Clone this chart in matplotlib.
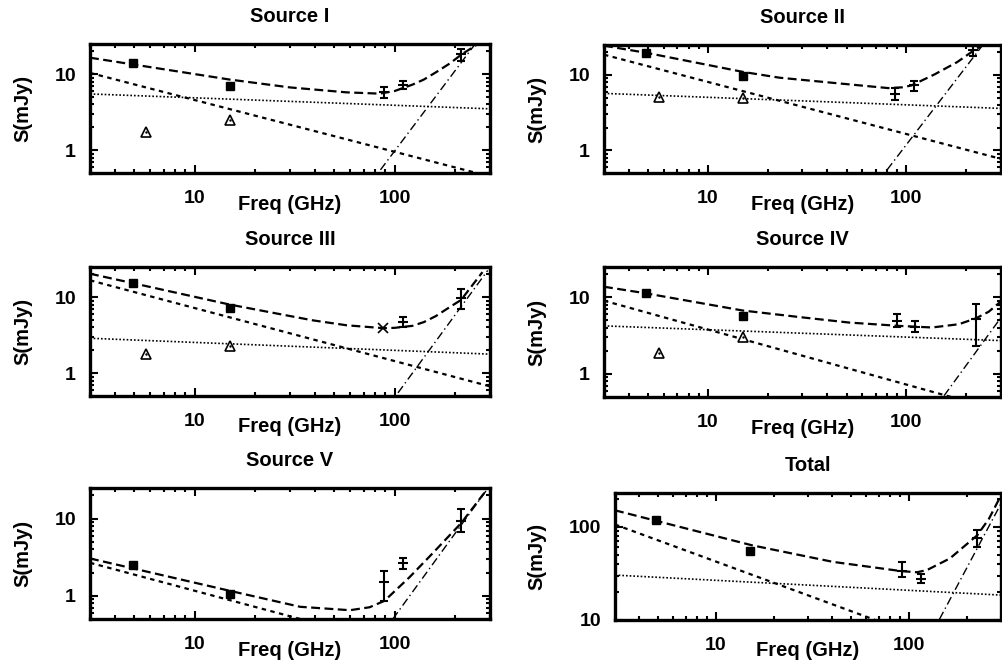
import matplotlib
matplotlib.use('Agg')
import matplotlib.pyplot as plt
import numpy as np
from matplotlib.ticker import LogLocator, NullFormatter

plt.rcParams['font.family'] = ['Liberation Sans', 'DejaVu Sans']
plt.rcParams['font.weight'] = 'bold'
plt.rcParams['font.size'] = 14

titles = ['Source I', 'Source II', 'Source III', 'Source IV', 'Source V', 'Total']

# filled squares (low frequency points)
sq_freq = [4.9, 15.0]
sq_flux = [[14.2, 7.0], [19.5, 9.8], [15.6, 7.2], [11.4, 5.7], [2.49, 1.05], [117.0, 54.7]]
sq_err = [[0.8, 0.6], [1.0, 0.7], [0.8, 0.6], [0.6, 0.6], [0.15, 0.08], [5.0, 4.0]]

# open triangles
tri_freq = [5.7, 15.0]
tri_flux = [[1.72, 2.48], [5.05, 4.95], [1.81, 2.25], [1.9, 3.05], [], []]

# high frequency points with error bars
bar_freq = [[89, 110, 216], [88, 109, 218], [110, 215], [90, 111, 224], [89, 110, 216], [91.6, 115, 226]]
bar_flux = [[5.8, 7.2, 18.2], [5.6, 7.3, 21.2], [4.72, 9.7], [4.92, 4.06, 5.2], [1.5, 2.65, 9.3], [33.4, 27.4, 74.8]]
bar_lo = [[4.9, 6.3, 14.9], [4.7, 6.2, 17.9], [4.07, 7.0], [4.06, 3.49, 2.3], [0.86, 2.25, 6.7], [29.0, 24.7, 60.8]]
bar_hi = [[6.7, 8.1, 21.4], [6.7, 8.4, 24.6], [5.48, 12.9], [6.1, 4.92, 8.3], [2.07, 3.1, 13.3], [42.0, 30.8, 93.3]]

# cross markers
cross_freq = [[], [], [88], [], [], []]
cross_flux = [[], [], [3.9], [], [], []]

# total model curve
total_freq = [
    [3, 15, 30, 57.5, 84, 100, 123, 140, 161, 190, 216, 255],
    [3, 5, 15, 23, 49, 81, 95, 106, 139, 181, 219, 241],
    [3, 15, 30, 39, 57.5, 88, 100, 123, 140, 161, 190, 215, 275],
    [3, 4.8, 15, 28.8, 51.4, 91.8, 135, 184, 224, 260, 300],
    [3, 15, 33.7, 59.8, 75, 89, 119, 155, 216, 300],
    [3, 15.3, 40.4, 91.6, 110, 124, 163, 226, 260, 303],
]
total_flux = [
    [16.5, 8.5, 6.7, 5.77, 5.55, 6.0, 7.3, 8.5, 10.6, 14.0, 18.2, 24.0],
    [24.5, 19.5, 11.0, 9.2, 7.6, 6.7, 6.85, 7.25, 10.2, 14.9, 21.2, 24.6],
    [20.4, 8.0, 5.65, 4.96, 4.27, 3.91, 3.95, 4.2, 4.7, 5.65, 7.5, 9.2, 21.4],
    [13.8, 11.4, 6.75, 5.55, 4.7, 4.25, 4.05, 4.47, 5.33, 6.5, 8.9],
    [3.05, 1.16, 0.72, 0.65, 0.71, 0.86, 1.75, 3.56, 8.85, 27.0],
    [150, 63.4, 42, 33.4, 32.5, 34.3, 45.7, 81, 122, 226],
]

# synchrotron (short dash)
sync_freq = [3, 300]
sync_flux = [[10.4, 0.45], [18.6, 0.77], [16.7, 0.67], [9.07, 0.33], [2.68, 0.11], [105.6, 3.2]]

# free-free (dotted)
ff_freq = [3, 300]
ff_flux = [[5.5, 3.5], [5.7, 3.6], [2.88, 1.78], [4.25, 2.73], [], [30.3, 18.5]]

# dust (dash-dot)
dust_freq = [[85, 250], [80, 240], [104, 292], [155, 299], [98, 300], [144, 300]]
dust_flux = [[0.55, 24.0], [0.55, 24.0], [0.55, 22.5], [0.52, 5.4], [0.5, 27.0], [10.2, 177.0]]

W, H = 1003, 668
boxes = [(90, 44, 490, 173), (604, 45, 1001, 173),
         (90, 267, 490, 396), (604, 267, 1001, 397),
         (90, 488, 490, 619), (615, 493, 1001, 620)]
ylab_x = [23, 537, 23, 537, 23, 537]

fig = plt.figure(figsize=(W / 100, H / 100), dpi=100)

for i, (x0, y0, x1, y1) in enumerate(boxes):
    ax = fig.add_axes([x0 / W, 1 - y1 / H, (x1 - x0) / W, (y1 - y0) / H])
    ax.set_xscale('log')
    ax.set_yscale('log')

    ax.plot(total_freq[i], total_flux[i], color='k', lw=1.6, ls=(0, (4, 2)))
    ax.plot(sync_freq, sync_flux[i], color='k', lw=1.6, ls=(0, (2, 2)))
    if ff_flux[i]:
        ax.plot(ff_freq, ff_flux[i], color='k', lw=1.2, ls=(0, (1, 1.2)))
    ax.plot(dust_freq[i], dust_flux[i], color='k', lw=1.0, ls=(0, (6, 2.5, 1, 2.5)))

    ax.errorbar(sq_freq, sq_flux[i], yerr=sq_err[i], fmt='s', color='k', ms=6,
                capsize=2.5, elinewidth=1.3, capthick=1.3)
    if tri_flux[i]:
        ax.plot(tri_freq, tri_flux[i], '^', mfc='white', mec='k', ms=7.5, mew=1.2)
        ax.plot(tri_freq, tri_flux[i], '.', color='k', ms=1.5)

    f = np.array(bar_flux[i])
    err = [f - np.array(bar_lo[i]), np.array(bar_hi[i]) - f]
    ax.errorbar(bar_freq[i], f, yerr=err, fmt='_', color='k', ms=6.5, mew=1.5,
                capsize=3.2, capthick=1.5, elinewidth=1.5)
    if cross_freq[i]:
        ax.plot(cross_freq[i], cross_flux[i], 'x', color='k', ms=7.5, mew=1.2)

    ax.set_xlim(3, 300)
    if i == 5:
        ax.set_ylim(10, 230)
        ax.set_yticks([10, 100])
        ax.set_yticklabels(['10', '100'])
    else:
        ax.set_ylim(0.5, 25)
        ax.set_yticks([1, 10])
        ax.set_yticklabels(['1', '10'])
    ax.set_xticks([10, 100])
    ax.set_xticklabels(['10', '100'])
    for axis in (ax.xaxis, ax.yaxis):
        axis.set_minor_locator(LogLocator(base=10, subs=np.arange(2, 10)))
        axis.set_minor_formatter(NullFormatter())

    ax.tick_params(which='both', direction='in', top=True, right=True, width=1.5)
    ax.tick_params(which='major', length=6)
    ax.tick_params(which='minor', length=3)
    ax.tick_params(axis='x', pad=12)
    ax.tick_params(axis='y', pad=10)
    for sp in ax.spines.values():
        sp.set_linewidth(2.4)

    ax.set_title(titles[i], fontsize=14.5, fontweight='bold', pad=16)
    ax.set_xlabel('Freq (GHz)', fontsize=14.5, fontweight='bold', va='center')
    ax.xaxis.set_label_coords(0.5, -31 / (y1 - y0))
    ax.set_ylabel('S(mJy)', fontsize=14.5, fontweight='bold', va='center')
    ax.yaxis.set_label_coords((ylab_x[i] - x0) / (x1 - x0), 0.5)

fig.savefig('out.png', dpi=100)
